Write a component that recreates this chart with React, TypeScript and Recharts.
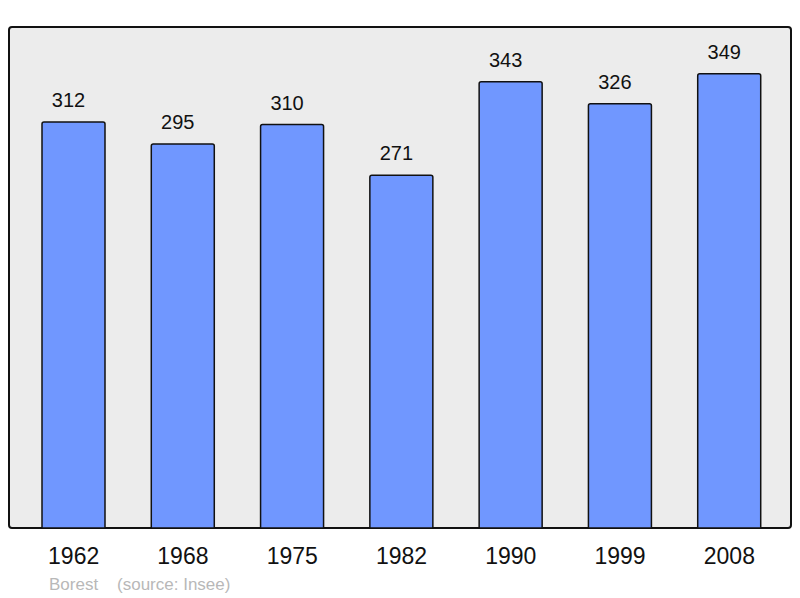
import { BarChart, Bar, XAxis, YAxis, LabelList } from "recharts";

// population by census year
const years = ["1962", "1968", "1975", "1982", "1990", "1999", "2008"];
const population = [312, 295, 310, 271, 343, 326, 349];

const data = years.map((year, i) => ({ year, pop: population[i] }));

const font = "'Liberation Sans', Arial, sans-serif";

// value label sits a little left of the bar centre, as in the original
const ValueLabel = (props: any) => {
  const { x, y, width, value } = props;
  return (
    <text
      x={Number(x) + Number(width) / 2 - 5}
      y={Number(y) - 15}
      textAnchor="middle"
      fill="#111"
      fontSize={20}
      fontFamily={font}
    >
      {value}
    </text>
  );
};

export default function App() {
  return (
    <div style={{ position: "absolute", left: 0, top: 0, width: 800, height: 598, background: "#fff", fontFamily: font }}>
      {/* plot frame */}
      <div
        style={{
          position: "absolute",
          left: 8,
          top: 26,
          width: 784,
          height: 503,
          boxSizing: "border-box",
          border: "2px solid #111",
          borderRadius: 4,
          background: "#ececec",
        }}
      />
      <div style={{ position: "absolute", left: 0, top: 0 }}>
        <BarChart width={800} height={598} data={data} margin={{ top: 27, right: 9, bottom: 30, left: 9 }}>
          <XAxis
            dataKey="year"
            axisLine={false}
            tickLine={false}
            tickSize={0}
            tickMargin={20}
            padding={{ left: 10, right: 7 }}
            height={40}
            tick={{ fill: "#111", fontSize: 23, fontFamily: font }}
          />
          <YAxis hide domain={[0, 385]} />
          <Bar
            dataKey="pop"
            fill="#7097ff"
            stroke="#111"
            strokeWidth={1.5}
            barSize={63}
            radius={[2, 2, 0, 0]}
            isAnimationActive={false}
          >
            <LabelList dataKey="pop" content={ValueLabel} />
          </Bar>
        </BarChart>
      </div>
      <div style={{ position: "absolute", left: 49, top: 575, fontSize: 17, color: "#b8b8b8", whiteSpace: "pre" }}>
        {"Borest    (source: Insee)"}
      </div>
    </div>
  );
}
